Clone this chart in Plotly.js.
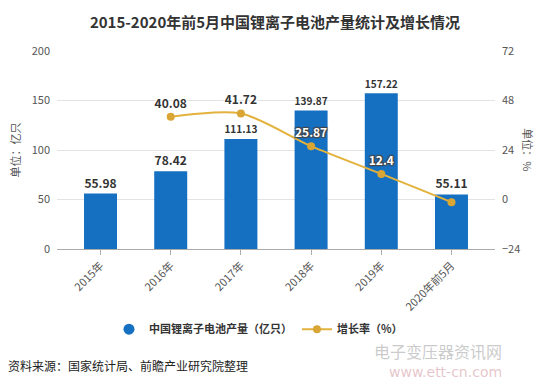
<!DOCTYPE html>
<html><head><meta charset="utf-8">
<script src="https://cdn.plot.ly/plotly-3.0.1.min.js"></script>
<style>html,body{margin:0;padding:0;background:#fff}#c{width:550px;height:386px}</style>
</head><body><div id="c"></div>
<script>
const categories = ['2015年','2016年','2017年','2018年','2019年','2020年前5月'];
const output = [55.98, 78.42, 111.13, 139.87, 157.22, 55.11];
const growthCats = ['2016年','2017年','2018年','2019年','2020年前5月'];
const growth = [40.08, 41.72, 25.87, 12.4, -1.3];
const growthLabels = ['40.08','41.72','25.87','12.4',''];
const leftTicks = [0,50,100,150,200];
const rightTicks = [-24,0,24,48,72];

const F = '"Noto Sans CJK SC", "Microsoft YaHei", sans-serif';
const blue = '#1670c2', gold = '#e2b23c';

const traces = [
  {type:'bar', x:categories, y:output, width:0.47, marker:{color:blue},
   text:output.map(v=>v.toFixed(2)), textposition:'outside', cliponaxis:false,
   textfont:{family:F, size:12, color:'#333', weight:'bold'}, showlegend:false, hoverinfo:'skip'},
  {type:'scatter', mode:'markers', x:[null], y:[null], name:'中国锂离子电池产量（亿只）',
   marker:{color:blue, size:11, symbol:'circle'}, showlegend:true},
  {type:'scatter', mode:'lines+markers+text', x:growthCats, y:growth, yaxis:'y2',
   name:'增长率（%）', line:{color:gold, width:2, shape:'spline', smoothing:0.8},
   marker:{color:'#d9a535', size:8}, text:growthLabels, textposition:'top center',
   textfont:{family:F, size:12, weight:'bold', color:['#333','#333','#fff','#fff','#fff'],
     shadow:'auto'}, cliponaxis:false}
];

const layout = {
  width:550, height:386, paper_bgcolor:'#fff', plot_bgcolor:'#fff',
  margin:{l:57, r:55, t:51, b:137},
  font:{family:F, color:'#555', size:11},
  title:{text:'<b>2015-2020年前5月中国锂离子电池产量统计及增长情况</b>', x:0.5, xanchor:'center', y:0.955,
    font:{family:F, size:15, color:'#333'}},
  bargap:0.5,
  xaxis:{type:'category', range:[-0.62,5.62], tickangle:-45, ticks:'outside', ticklen:5, tickcolor:'#aaa',
    showline:true, linecolor:'#aaa', tickfont:{family:F, size:11, color:'#555'}, showgrid:false, fixedrange:true},
  yaxis:{range:[0,200], tickvals:leftTicks, gridcolor:'#e3e3e3', zeroline:false, showline:false,
    tickfont:{family:F, size:11, color:'#555'}, ticklabelstandoff:6,
    title:{text:'单位：亿只', font:{family:F, size:11, color:'#555'}, standoff:8}},
  yaxis2:{range:[-24,72], tickvals:rightTicks, overlaying:'y', side:'right', showgrid:false, zeroline:false,
    tickfont:{family:F, size:11, color:'#555'}, ticklabelstandoff:6},
  legend:{orientation:'h', x:0.46, xanchor:'center', y:-0.405, yanchor:'middle',
    font:{family:F, size:11, color:'#333', weight:'bold'}, itemwidth:30, tracegroupgap:0},
  annotations:[
    {text:'单位：%', xref:'paper', yref:'paper', x:1.075, y:0.5, textangle:90, showarrow:false,
     font:{family:F, size:11, color:'#555'}, xanchor:'center', yanchor:'middle'},
    {text:'资料来源：国家统计局、前瞻产业研究院整理', xref:'paper', yref:'paper', x:-0.117, y:-0.59,
     xanchor:'left', yanchor:'middle', showarrow:false, font:{family:F, size:12, color:'#222'}},
    {text:'电子变压器资讯网', xref:'paper', yref:'paper', x:1.02, y:-0.515, xanchor:'right', yanchor:'middle',
     showarrow:false, font:{family:F, size:16, color:'rgba(150,150,150,0.5)'}},
    {text:'www.ett-cn.com', xref:'paper', yref:'paper', x:1.02, y:-0.62, xanchor:'right', yanchor:'middle',
     showarrow:false, font:{family:'DejaVu Sans, sans-serif', size:14, color:'rgba(205,140,150,0.5)'}}
  ]
};
Plotly.newPlot('c', traces, layout, {displayModeBar:false, staticPlot:true});
</script></body></html>
